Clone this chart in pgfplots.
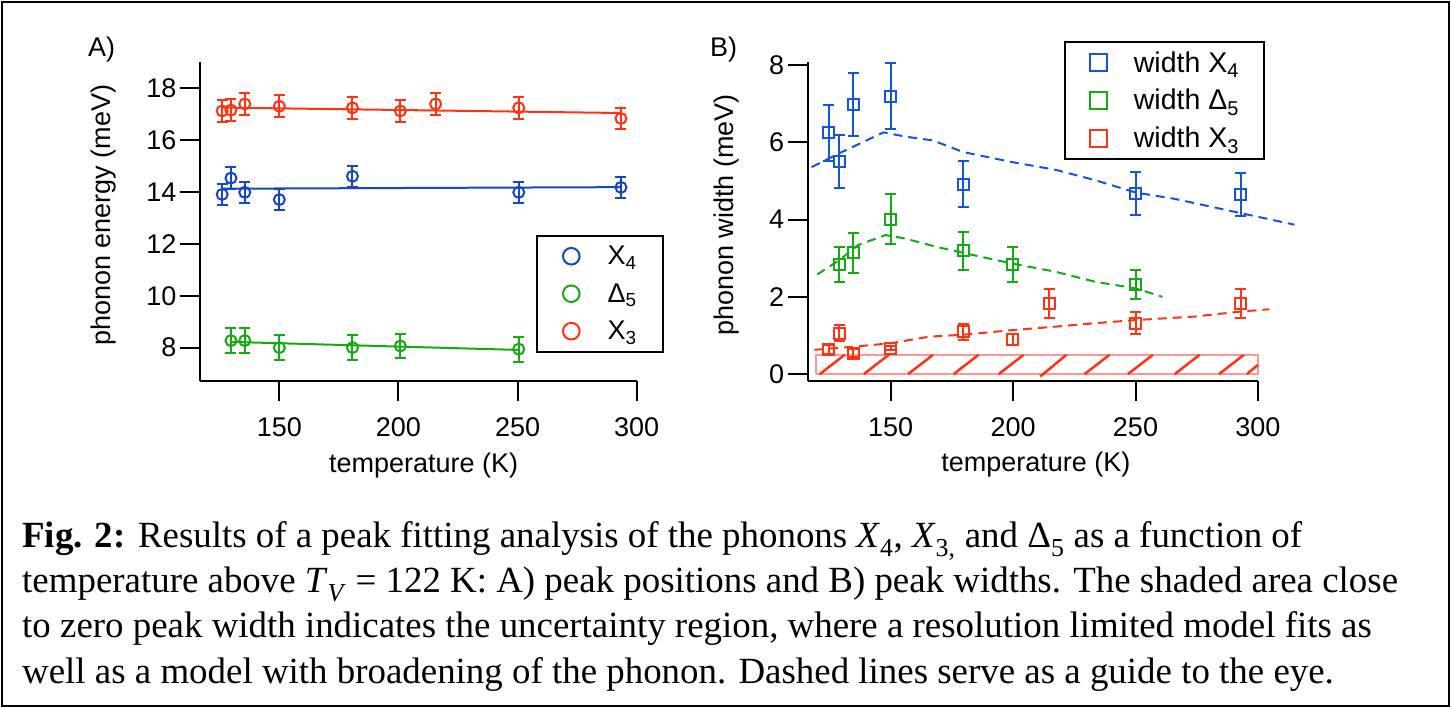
\documentclass[border=0pt]{standalone}
\usepackage{fontspec}
\setmainfont{Liberation Serif}
\newfontfamily\sansf{Liberation Sans}
\usepackage{pgfplots}
\pgfplotsset{compat=1.18}
\definecolor{redc}{RGB}{255,51,17}
\definecolor{blueA}{RGB}{20,70,200}
\definecolor{blueB}{RGB}{20,85,220}
\definecolor{greenc}{RGB}{20,170,20}
\definecolor{pinkc}{RGB}{255,150,150}
\newcommand{\pf}{\sansf\fontsize{27bp}{32bp}\selectfont}
\newcommand{\lf}{\sansf\fontsize{28.5bp}{32bp}\selectfont}
\newcommand{\capf}{\fontsize{36.9bp}{45bp}\selectfont}
\pgfplotsset{
 igor/.style={
  scale only axis,
  axis x line*=bottom, axis y line*=left,
  axis line style={line width=2bp, black},
  tick align=outside,
  major tick length=20bp,
  tick style={line width=2bp, black},
  font=\pf,
  ticklabel style={font=\pf},
  xticklabel style={yshift=-13bp},
  /pgf/number format/assume math mode=true,
  xtick={150,200,250,300},
  clip=false,
  legend cell align=left,
  legend image code/.code={\draw[##1] plot coordinates {(0bp,0bp)};},
 },
 ebar/.style={error bars/.cd, y dir=both, y explicit,
  error bar style={line width=2bp},
  error mark options={rotate=90, mark size=5.5bp, line width=2bp}, /pgfplots/.cd},
}
\pgfplotstableread{
x y e
126   17.13 0.42
129.7 17.16 0.42
135.5 17.40 0.42
150   17.31 0.42
180.7 17.25 0.42
200.8 17.13 0.42
215.6 17.40 0.42
250.5 17.25 0.42
293.4 16.84 0.42
}\AXthree
\pgfplotstableread{
x y e
126   13.91 0.42
129.7 14.54 0.42
135.5 13.99 0.40
150   13.71 0.40
180.7 14.61 0.40
250.5 13.99 0.40
293.4 14.18 0.40
}\AXfour
\pgfplotstableread{
x y e
129.7 8.27 0.48
135.5 8.27 0.48
150   8.00 0.48
180.7 8.00 0.48
200.8 8.06 0.48
250.5 7.94 0.48
}\ADelta
\pgfplotstableread{
x y e
124.6 6.25 0.72
129.0 5.51 0.68
134.8 6.98 0.82
150.0 7.20 0.86
179.6 4.92 0.59
250.2 4.68 0.55
292.9 4.65 0.55
}\BXfour
\pgfplotstableread{
x y e
129.0 2.84 0.45
134.8 3.14 0.51
150.0 4.01 0.65
179.6 3.19 0.50
199.8 2.84 0.45
250.2 2.32 0.37
}\BDelta
\pgfplotstableread{
x y e
124.6 0.63 0.12
129.0 1.06 0.21
134.8 0.54 0.10
150.0 0.67 0.05
179.6 1.10 0.21
199.8 0.90 0.15
214.7 1.83 0.37
250.2 1.32 0.28
292.9 1.83 0.37
}\BXthree
\begin{document}
\begin{tikzpicture}
\useasboundingbox (0,0) rectangle (1451bp,708bp);
\draw[line width=2bp] (2bp,2bp) rectangle (1449bp,706bp);
\node[anchor=west, inner sep=0pt, font=\pf] at (88bp,658bp) {A)};
\node[anchor=west, inner sep=0pt, font=\pf] at (710bp,658bp) {B)};
% ---------------- Panel A
\begin{axis}[igor, at={(200bp,326.7bp)}, anchor=south west,
  width=436.7bp, height=319.6bp,
  xmin=116.7, xmax=300, ymin=6.70, ymax=19.03,
  ytick={8,10,...,18},
  xlabel={temperature (K)}, ylabel={phonon energy (meV)},
  xlabel style={at={(axis description cs:0.512,-0.262)}, anchor=center},
  ylabel style={at={(axis description cs:-0.222,0.520)}, anchor=center},
  legend style={at={(0.7694,0.4587)}, anchor=north west, draw=black, line width=2bp,
    inner xsep=26bp, inner ysep=10.5bp, row sep=17.4bp, column sep=28bp,
    nodes={inner sep=0pt}},
]
\addlegendimage{only marks, mark=o, mark size=8.3bp, line width=2bp, blueA}
\addlegendentry{X\textsubscript{4}}
\addlegendimage{only marks, mark=o, mark size=8.3bp, line width=2bp, greenc}
\addlegendentry{Δ\textsubscript{5}}
\addlegendimage{only marks, mark=o, mark size=8.3bp, line width=2bp, redc}
\addlegendentry{X\textsubscript{3}}
\addplot[redc, line width=2bp, forget plot] coordinates {(126,17.26) (293.4,17.05)};
\addplot[blueA, line width=2bp, forget plot] coordinates {(126,14.13) (293.4,14.19)};
\addplot[greenc, line width=2bp, forget plot] coordinates {(129.7,8.22) (250.5,7.91)};
\addplot[redc, forget plot, only marks, mark=o, mark size=5.5bp, line width=2bp, ebar] table[x=x,y=y,y error=e] {\AXthree};
\addplot[blueA, forget plot, only marks, mark=o, mark size=5.5bp, line width=2bp, ebar] table[x=x,y=y,y error=e] {\AXfour};
\addplot[greenc, forget plot, only marks, mark=o, mark size=5.5bp, line width=2bp, ebar] table[x=x,y=y,y error=e] {\ADelta};
\end{axis}
% ---------------- Panel B
\begin{axis}[igor, at={(807.7bp,327.3bp)}, anchor=south west,
  width=450.2bp, height=319bp,
  xmin=116.1, xmax=300, ymin=-0.17, ymax=8.09,
  ytick={0,2,...,8},
  xlabel={temperature (K)}, ylabel={phonon width (meV)},
  xlabel style={at={(axis description cs:0.507,-0.264)}, anchor=center},
  ylabel style={at={(axis description cs:-0.181,0.519)}, anchor=center},
  legend style={at={(0.569,1.0658)}, anchor=north west, draw=black, line width=2bp,
    inner xsep=25bp, inner ysep=10bp, row sep=15.5bp, column sep=27bp,
    nodes={inner sep=0pt, font=\lf}},
  unbounded coords=jump,
]
\addlegendimage{only marks, mark=square, mark size=8.5bp, line width=2bp, blueB}
\addlegendentry{width X\textsubscript{4}}
\addlegendimage{only marks, mark=square, mark size=8.5bp, line width=2bp, greenc}
\addlegendentry{width Δ\textsubscript{5}}
\addlegendimage{only marks, mark=square, mark size=8.5bp, line width=2bp, redc}
\addlegendentry{width X\textsubscript{3}}
% uncertainty region
\addplot[pinkc, line width=2bp, forget plot] coordinates {(119.6,0) (300,0) (300,0.5) (119.6,0.5) (119.6,0)};
\addplot[redc, line width=2.5bp, forget plot] coordinates {
 (121.0,0) (131.2,0.5) (nan,nan)
 (139.0,0) (149.2,0.5) (nan,nan)
 (157.1,0) (167.3,0.5) (nan,nan)
 (175.7,0) (185.9,0.5) (nan,nan)
 (194.1,0) (204.3,0.5) (nan,nan)
 (211.1,-0.06) (221.8,0.5) (nan,nan)
 (229.2,0) (239.4,0.5) (nan,nan)
 (246.9,0) (257.1,0.5) (nan,nan)
 (266.0,0) (276.2,0.5) (nan,nan)
 (284.1,0) (294.3,0.5) (nan,nan)
 (295.5,0) (300,0.24)};
% guides
\addplot[blueB, line width=2bp, dash pattern=on 9bp off 6bp, forget plot] coordinates {
 (117.7,5.36) (130,5.75) (147.1,6.26) (156,6.15) (167.3,6.05) (179.6,5.75) (199.6,5.49)
 (217.4,5.29) (233.6,5.02) (250.2,4.70) (265.9,4.54) (292.9,4.17) (314.9,3.87)};
\addplot[greenc, line width=2bp, dash pattern=on 9bp off 6bp, forget plot] coordinates {
 (120,2.58) (129,2.95) (136.6,3.34) (147.9,3.60) (156,3.51) (169,3.29) (179.6,3.14)
 (199.8,2.86) (217.4,2.65) (233.6,2.39) (250.2,2.22) (261,2.00)};
\addplot[redc, line width=2bp, dash pattern=on 9bp off 6bp, forget plot] coordinates {
 (118.8,0.63) (134.8,0.71) (150,0.80) (165.7,0.97) (179.6,1.02) (199.8,1.14)
 (217.4,1.23) (233.6,1.32) (250.2,1.40) (273.9,1.49) (292.9,1.62) (304.7,1.68)};
\addplot[blueB, forget plot, only marks, mark=square, mark size=5.5bp, line width=2bp, ebar] table[x=x,y=y,y error=e] {\BXfour};
\addplot[greenc, forget plot, only marks, mark=square, mark size=5.5bp, line width=2bp, ebar] table[x=x,y=y,y error=e] {\BDelta};
\addplot[redc, forget plot, only marks, mark=square, mark size=5.5bp, line width=2bp, ebar] table[x=x,y=y,y error=e] {\BXthree};
\end{axis}
% ---------------- caption
\node[anchor=base west, inner sep=0pt, font=\capf] at (22bp,160bp) {\textbf{Fig. 2:} Results of a peak fitting analysis of the phonons \textit{X}\textsubscript{4}, \textit{X}\textsubscript{3,} and Δ\textsubscript{5} as a function of};
\node[anchor=base west, inner sep=0pt, font=\capf] at (22bp,115bp) {temperature above \textit{T}\textsubscript{\textit{V}} = 122 K: A) peak positions and B) peak widths. The shaded area close};
\node[anchor=base west, inner sep=0pt, font=\capf] at (22bp,70bp) {to zero peak width indicates the uncertainty region, where a resolution limited model fits as};
\node[anchor=base west, inner sep=0pt, font=\capf] at (22bp,25bp) {well as a model with broadening of the phonon. Dashed lines serve as a guide to the eye.};
\end{tikzpicture}
\end{document}
